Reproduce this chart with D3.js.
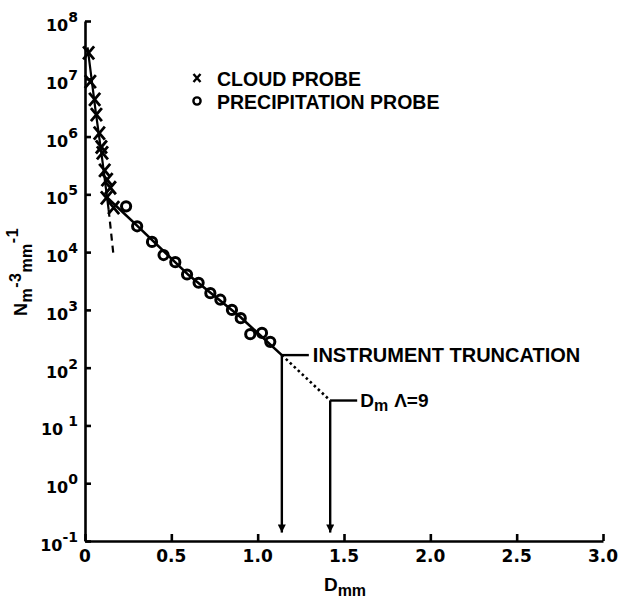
<!DOCTYPE html>
<html lang="en">
<head>
<meta charset="UTF-8">
<title>Drop size spectrum</title>
<script src="https://cdn.jsdelivr.net/npm/d3@7"></script>
<style>
  body { margin: 0; background: #fff; }
  text { font-family: "Liberation Sans", Arial, sans-serif; font-weight: bold; fill: #000; }
  .tick-label { font-family: "DejaVu Sans", sans-serif; }
  .axis path, .axis line { stroke: #000; stroke-width: 2.6px; }
</style>
</head>
<body>
<svg id="chart" width="624" height="605"></svg>
<script>
// cloud probe (x marks), D in mm, N in m^-3 mm^-1
const cloudD = [0.021, 0.031, 0.056, 0.066, 0.083, 0.095, 0.101, 0.114, 0.128, 0.147, 0.124, 0.166];
const cloudN = [2.8e7, 8.9e6, 4.4e6, 2.4e6, 1.15e6, 6.6e5, 5.2e5, 2.6e5, 1.8e5, 1.3e5, 8.7e4, 5.9e4];

// precipitation probe (circles)
const precipD = [0.238, 0.302, 0.388, 0.455, 0.523, 0.591, 0.658, 0.726, 0.784, 0.851, 0.902, 0.957, 1.025, 1.073];
const precipN = [6.2e4, 2.8e4, 1.5e4, 8.9e3, 6.7e3, 4.1e3, 2.95e3, 1.95e3, 1.5e3, 1.0e3, 720, 380, 400, 280];

// fitted curves
const cloudFitD = [0.015, 0.06, 0.1, 0.137];
const cloudFitN = [3.5e7, 3.0e6, 4.0e5, 5.4e4];
const cloudDashD = [0.137, 0.166];
const cloudDashN = [5.4e4, 8.3e3];
const precipFitD = [0.125, 0.3, 0.6, 0.9, 1.14];
const precipFitN = [9.0e4, 2.9e4, 4.0e3, 750, 165];
const extrapD = [1.14, 1.42];
const extrapN = [165, 27];

// annotations
const truncD = 1.14, truncN = 165;
const dmD = 1.42, dmN = 27;
const arrowEndN = 0.14;

// ticks
const xTicks = [0, 0.5, 1.0, 1.5, 2.0, 2.5, 3.0];
const xTickLabels = ["0", "0.5", "1.0", "1.5", "2.0", "2.5", "3.0"];
const yExponents = [-1, 0, 1, 2, 3, 4, 5, 6, 7, 8];

const svg = d3.select("#chart");

const x = d3.scaleLinear().domain([0, 3]).range([85, 603]);
const y = d3.scaleLog().domain([0.1, 1e8]).range([541, 21]);

const line = d3.line().x(d => x(d[0])).y(d => y(d[1]));
const zip = (a, b) => a.map((v, i) => [v, b[i]]);

// axes
svg.append("g")
    .attr("class", "axis")
    .attr("transform", "translate(0,541)")
    .call(d3.axisBottom(x).tickValues(xTicks).tickSizeInner(-7).tickSizeOuter(0).tickFormat(""));

svg.append("g")
    .attr("class", "axis")
    .attr("transform", "translate(85,0)")
    .call(d3.axisLeft(y).tickValues(yExponents.map(e => Math.pow(10, e))).tickSizeInner(-6).tickSizeOuter(0).tickFormat(""));

svg.selectAll(".xlab")
    .data(xTicks)
    .enter().append("text")
    .attr("class", "tick-label")
    .attr("x", d => x(d))
    .attr("y", 562)
    .attr("text-anchor", "middle")
    .style("font-size", "17px")
    .text((d, i) => xTickLabels[i]);

const ylab = svg.selectAll(".ylab")
    .data(yExponents)
    .enter().append("text")
    .attr("class", "tick-label")
    .attr("x", 78)
    .attr("y", d => y(Math.pow(10, d)) + 10)
    .attr("text-anchor", "end")
    .style("font-size", "16px");
ylab.append("tspan").text("10");
ylab.append("tspan")
    .attr("dy", -9)
    .attr("dx", d => d === 1 ? 5 : 0)
    .style("font-size", "14px")
    .text(d => d);

// axis titles
const xt = svg.append("text").attr("x", 345).attr("y", 591).attr("text-anchor", "middle").style("font-size", "19px");
xt.append("tspan").text("D");
xt.append("tspan").attr("dy", 5).style("font-size", "16px").text("mm");

const yt = svg.append("text")
    .attr("transform", "translate(27,272) rotate(-90)")
    .attr("text-anchor", "middle")
    .style("font-size", "18px")
    .style("letter-spacing", "0.5px");
yt.append("tspan").text("N");
yt.append("tspan").attr("dy", 5).style("font-size", "16px").text("m");
yt.append("tspan").attr("dy", -11).style("font-size", "16px").text("-3");
yt.append("tspan").attr("dy", 11).style("font-size", "16px").text("mm");
yt.append("tspan").attr("dy", -14).style("font-size", "16px").text("-1");

// fitted curves
svg.append("path").datum(zip(cloudFitD, cloudFitN))
    .attr("d", line).attr("fill", "none").attr("stroke", "#000").attr("stroke-width", 2.2);
svg.append("path").datum(zip(cloudDashD, cloudDashN))
    .attr("d", line).attr("fill", "none").attr("stroke", "#000").attr("stroke-width", 2.2)
    .attr("stroke-dasharray", "7,5");
svg.append("path").datum(zip(precipFitD, precipFitN))
    .attr("d", line).attr("fill", "none").attr("stroke", "#000").attr("stroke-width", 2.6);
svg.append("path").datum(zip(extrapD, extrapN))
    .attr("d", line).attr("fill", "none").attr("stroke", "#000").attr("stroke-width", 2.6)
    .attr("stroke-dasharray", "2.5,3");

// markers
const cross = "M-5.5,-6.5L5.5,6.5M-5.5,6.5L5.5,-6.5";
svg.selectAll(".cloud")
    .data(zip(cloudD, cloudN))
    .enter().append("path")
    .attr("transform", d => `translate(${x(d[0])},${y(d[1])})`)
    .attr("d", cross)
    .attr("stroke", "#000").attr("stroke-width", 2.8).attr("fill", "none");

svg.selectAll(".precip")
    .data(zip(precipD, precipN))
    .enter().append("circle")
    .attr("cx", d => x(d[0])).attr("cy", d => y(d[1]))
    .attr("r", 4.6)
    .attr("stroke", "#000").attr("stroke-width", 3).attr("fill", "none");

// arrows
svg.append("defs").append("marker")
    .attr("id", "head").attr("viewBox", "0 0 10 10")
    .attr("refX", 10).attr("refY", 5)
    .attr("markerUnits", "userSpaceOnUse")
    .attr("markerWidth", 16).attr("markerHeight", 8)
    .attr("orient", "auto")
    .append("path").attr("d", "M0,0L10,5L0,10Z").attr("fill", "#000");

[[truncD, truncN], [dmD, dmN]].forEach(p => {
    svg.append("line")
        .attr("x1", x(p[0])).attr("x2", x(p[0]))
        .attr("y1", y(p[1])).attr("y2", y(arrowEndN))
        .attr("stroke", "#000").attr("stroke-width", 2.4)
        .attr("marker-end", "url(#head)");
});

// leader lines and labels
svg.append("line")
    .attr("x1", x(truncD)).attr("x2", x(truncD) + 27)
    .attr("y1", y(truncN)).attr("y2", y(truncN))
    .attr("stroke", "#000").attr("stroke-width", 2.4);
svg.append("text")
    .attr("x", x(truncD) + 31).attr("y", y(truncN) + 7)
    .style("font-size", "20px")
    .text("INSTRUMENT TRUNCATION");

svg.append("line")
    .attr("x1", x(dmD)).attr("x2", x(dmD) + 27)
    .attr("y1", y(dmN)).attr("y2", y(dmN))
    .attr("stroke", "#000").attr("stroke-width", 2.4);
const dml = svg.append("text")
    .attr("x", x(dmD) + 30).attr("y", y(dmN) + 6)
    .style("font-size", "19px");
dml.append("tspan").text("D");
dml.append("tspan").attr("dy", 4).style("font-size", "16px").text("m");
dml.append("tspan").attr("dy", -4).attr("dx", 6).text("\u039b=9");

// legend
const legend = svg.append("g");
legend.append("path")
    .attr("transform", "translate(197,78)")
    .attr("d", "M-3.5,-4L3.5,4M-3.5,4L3.5,-4")
    .attr("stroke", "#000").attr("stroke-width", 2.4).attr("fill", "none");
legend.append("circle")
    .attr("cx", 197).attr("cy", 101).attr("r", 3.6)
    .attr("stroke", "#000").attr("stroke-width", 2.4).attr("fill", "none");
legend.append("text").attr("x", 217).attr("y", 86).style("font-size", "19.5px").text("CLOUD PROBE");
legend.append("text").attr("x", 217).attr("y", 109).style("font-size", "19.5px").text("PRECIPITATION PROBE");
</script>
</body>
</html>
